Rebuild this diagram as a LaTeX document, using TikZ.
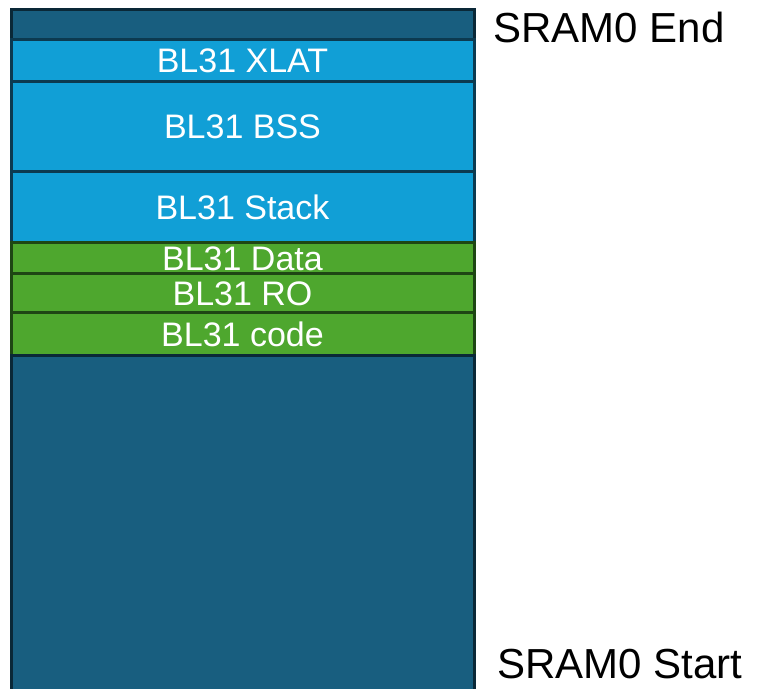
\documentclass[tikz,border=0pt]{standalone}
\usepackage{fontspec}
\setmainfont{Liberation Sans}
\usepackage{tikz}
\usetikzlibrary{positioning}
\definecolor{sramblue}{RGB}{24,94,127}
\definecolor{sramedge}{RGB}{10,40,55}
\definecolor{blfill}{RGB}{17,159,214}
\definecolor{bledge}{RGB}{12,58,80}
\definecolor{grfill}{RGB}{78,167,46}
\definecolor{gredge}{RGB}{30,70,20}

\begin{document}
\begin{tikzpicture}[
  x=1pt, y=-1pt,
  seg/.style={rectangle, line width=3pt, minimum width=463pt, inner sep=0pt,
              outer sep=0pt, text=white, text height=25pt, text depth=0pt,
              font=\fontsize{34}{40}\selectfont, align=center},
  band/.style={seg, draw=sramedge, fill=sramblue},
  blueseg/.style={seg, draw=bledge, fill=blfill},
  greenseg/.style={seg, draw=gredge, fill=grfill},
  addr/.style={anchor=base west, font=\fontsize{42}{48}\selectfont},
  node distance=0pt
]
  \path[use as bounding box, clip] (0,0) rectangle (757,688);

  % SRAM0 layout, top to bottom
  \node[band, minimum height=30pt, anchor=north west] (top) at (11,9) {};
  \node[blueseg, minimum height=42pt, below=of top]    (xlat)  {BL31 XLAT};
  \node[blueseg, minimum height=90pt, below=of xlat]   (bss)   {BL31 BSS};
  \node[blueseg, minimum height=71pt, below=of bss]    (stack) {BL31 Stack};
  \node[greenseg, minimum height=31pt, below=of stack] (data)  {BL31 Data};
  \node[greenseg, minimum height=39pt, below=of data]  (ro)    {BL31 RO};
  \node[greenseg, minimum height=43pt, below=of ro]    (code)  {BL31 code};
  \node[band, minimum height=345pt, below=of code]     (free)  {};

  % Addresses
  \node[addr] (send)   at (490,42)  {SRAM0 End};
  \node[addr] (sstart) at (494,678) {SRAM0 Start};
\end{tikzpicture}
\end{document}
